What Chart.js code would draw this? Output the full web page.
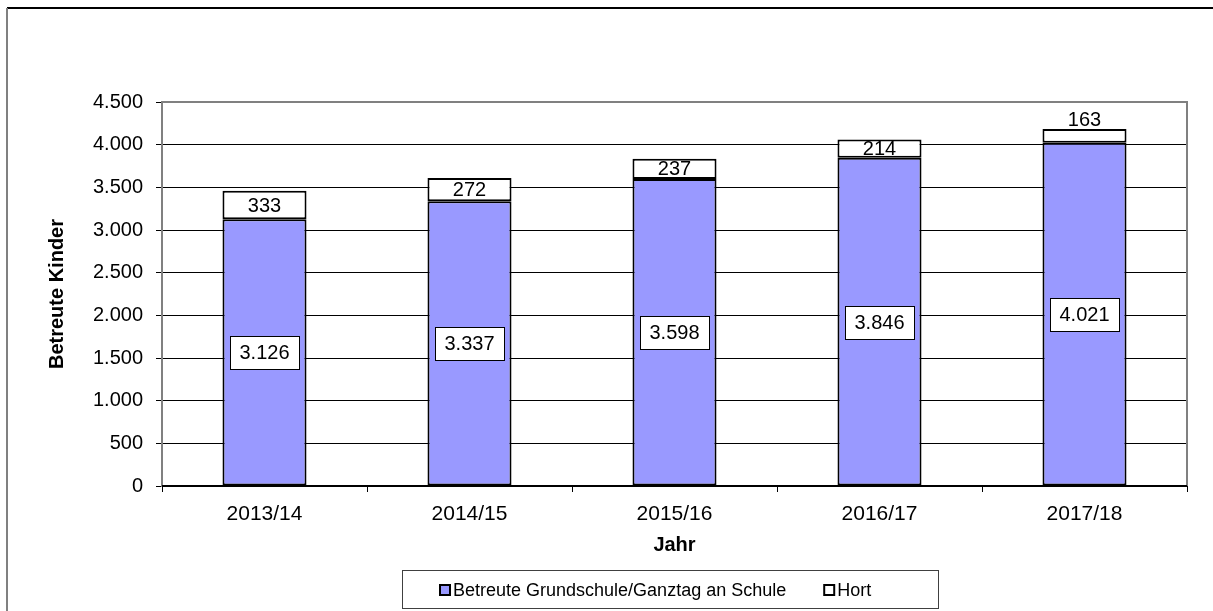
<!DOCTYPE html>
<html lang="de">
<head>
<meta charset="utf-8">
<title>Betreute Kinder</title>
<script src="https://cdn.jsdelivr.net/npm/chart.js@4.4.1/dist/chart.umd.min.js"></script>
<style>
  html, body { margin: 0; padding: 0; background: #fff; }
  #wrap { width: 1213px; height: 611px; position: relative; overflow: hidden; }
</style>
</head>
<body>
<div id="wrap"><canvas id="chart" width="1213" height="611"></canvas></div>
<script>
// Data
const jahre = ['2013/14', '2014/15', '2015/16', '2016/17', '2017/18'];
const grundschule = [3126, 3337, 3598, 3846, 4021];
const hort = [333, 272, 237, 214, 163];
const yMin = 0;
const yMax = 4500;
const yStep = 500;

const FONT = '"Liberation Sans", Arial, sans-serif';

// German thousands separator
function fmt(v) {
    return String(v).replace(/\B(?=(\d{3})+(?!\d))/g, '.');
}

// Outer frame, plot frame, value labels and boxed legend
const excelLook = {
    id: 'excelLook',
    beforeDraw(chart) {
        const ctx = chart.ctx;
        ctx.save();
        ctx.lineWidth = 2;
        ctx.strokeStyle = '#000';
        ctx.beginPath();
        ctx.moveTo(7, 8);
        ctx.lineTo(1213, 8);
        ctx.stroke();
        ctx.strokeStyle = '#808080';
        ctx.beginPath();
        ctx.moveTo(7, 8);
        ctx.lineTo(7, 611);
        ctx.stroke();
        ctx.restore();
    },
    beforeDatasetsDraw(chart) {
        const { ctx, chartArea: a } = chart;
        ctx.save();
        ctx.lineWidth = 2;
        ctx.strokeStyle = '#808080';
        ctx.beginPath();
        ctx.moveTo(a.left, a.bottom);
        ctx.lineTo(a.left, a.top);
        ctx.lineTo(a.right, a.top);
        ctx.lineTo(a.right, a.bottom);
        ctx.stroke();
        ctx.strokeStyle = '#000';
        ctx.beginPath();
        ctx.moveTo(a.left, a.bottom);
        ctx.lineTo(a.right, a.bottom);
        ctx.stroke();
        ctx.restore();
    },
    afterDatasetsDraw(chart) {
        const ctx = chart.ctx;
        ctx.save();
        ctx.font = '20px ' + FONT;
        ctx.textAlign = 'center';
        ctx.textBaseline = 'middle';
        ctx.fillStyle = '#000';

        // boxed labels in the middle of the lower bars
        chart.getDatasetMeta(0).data.forEach((bar, i) => {
            const txt = fmt(grundschule[i]);
            const cy = Math.round((bar.y + bar.base) / 2);
            const w = Math.round(ctx.measureText(txt).width + 19);
            const h = 33;
            const x0 = Math.round(bar.x - w / 2);
            const y0 = Math.round(cy - h / 2);
            ctx.fillStyle = '#fff';
            ctx.fillRect(x0, y0, w, h);
            ctx.strokeStyle = '#000';
            ctx.lineWidth = 1;
            ctx.strokeRect(x0 + 0.5, y0 + 0.5, w, h);
            ctx.fillStyle = '#000';
            ctx.fillText(txt, bar.x, cy + 1);
        });

        // Hort labels: centred, or just above when the segment is too thin
        chart.getDatasetMeta(1).data.forEach((bar, i) => {
            const txt = fmt(hort[i]);
            const hgt = bar.base - bar.y;
            const cy = hgt < 16 ? bar.y - 9 : (bar.y + bar.base) / 2;
            ctx.fillText(txt, bar.x, cy + 1);
        });
        ctx.restore();
    },
    afterDraw(chart) {
        const ctx = chart.ctx;
        ctx.save();
        ctx.fillStyle = '#fff';
        ctx.fillRect(402, 570, 536, 38);
        ctx.strokeStyle = '#404040';
        ctx.lineWidth = 1;
        ctx.strokeRect(402.5, 570.5, 536, 38);

        ctx.font = '18px ' + FONT;
        ctx.textAlign = 'left';
        ctx.textBaseline = 'middle';
        const cy = 590;
        let x = 439;
        chart.data.datasets.forEach(ds => {
            ctx.fillStyle = ds.backgroundColor;
            ctx.fillRect(x, cy - 6, 12, 12);
            ctx.strokeStyle = '#000';
            ctx.lineWidth = 2;
            ctx.strokeRect(x + 1, cy - 5, 10, 10);
            ctx.fillStyle = '#000';
            ctx.fillText(ds.label, x + 14, cy + 1);
            x += 14 + ctx.measureText(ds.label).width + 37;
        });
        ctx.restore();
    }
};

new Chart(document.getElementById('chart'), {
    type: 'bar',
    data: {
        labels: jahre,
        datasets: [
            {
                label: 'Betreute Grundschule/Ganztag an Schule',
                data: grundschule,
                backgroundColor: '#9999FF',
                borderColor: '#000',
                borderWidth: 2,
                borderSkipped: false
            },
            {
                label: 'Hort',
                data: hort,
                backgroundColor: '#FFFFFF',
                borderColor: '#000',
                borderWidth: 2,
                borderSkipped: false
            }
        ]
    },
    options: {
        responsive: false,
        animation: false,
        events: [],
        layout: {
            padding: { left: 0, top: 102, right: 26, bottom: 0 }
        },
        datasets: {
            bar: { categoryPercentage: 0.41, barPercentage: 1 }
        },
        plugins: {
            legend: { display: false },
            tooltip: { enabled: false }
        },
        scales: {
            x: {
                stacked: true,
                afterFit(scale) { scale.height = 125; },
                grid: {
                    offset: true,
                    drawOnChartArea: false,
                    drawTicks: true,
                    tickLength: 6,
                    color: '#000'
                },
                border: { color: '#000', width: 2 },
                ticks: {
                    color: '#000',
                    padding: 10,
                    maxRotation: 0,
                    font: { family: FONT, size: 21 }
                },
                title: {
                    display: true,
                    text: 'Jahr',
                    color: '#000',
                    padding: { top: 0, bottom: 54 },
                    font: { family: FONT, size: 20, weight: 'bold' }
                }
            },
            y: {
                stacked: true,
                min: yMin,
                max: yMax,
                afterFit(scale) { scale.width = 162; },
                grid: {
                    color: '#000',
                    lineWidth: 1,
                    tickLength: 6
                },
                border: { color: '#808080', width: 2 },
                ticks: {
                    stepSize: yStep,
                    color: '#000',
                    padding: 13,
                    font: { family: FONT, size: 20 },
                    callback: v => fmt(v)
                },
                title: {
                    display: true,
                    text: 'Betreute Kinder',
                    color: '#000',
                    padding: { top: 45, bottom: 0 },
                    font: { family: FONT, size: 20, weight: 'bold' }
                }
            }
        }
    },
    plugins: [excelLook]
});
</script>
</body>
</html>
